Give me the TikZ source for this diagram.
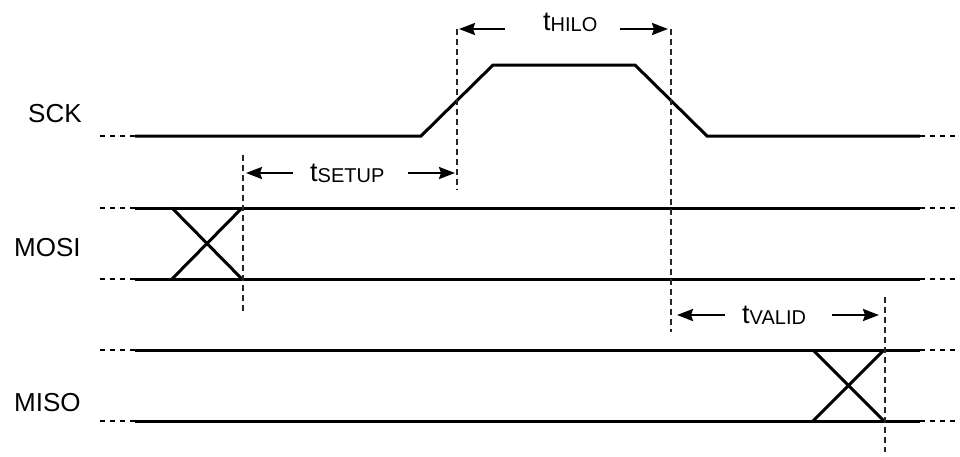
\documentclass[tikz,border=0pt]{standalone}
\usepackage{fontspec}
\setmainfont{Liberation Sans}
\usetikzlibrary{arrows.meta}
\begin{document}
\begin{tikzpicture}[x=1pt,y=-1pt,
  sig/.style={line width=3pt, line join=miter},
  ext/.style={line width=2.2pt, dash pattern=on 5pt off 5pt},
  guide/.style={line width=1.5pt, black!85, dash pattern=on 6pt off 4pt},
  dim/.style={line width=2.3pt, -{Stealth[length=16pt,width=12pt,inset=2pt]}},
  lbl/.style={anchor=base west, inner sep=0pt, font=\fontsize{26}{28}\selectfont},
  tlbl/.style={inner sep=0pt, font=\fontsize{27}{28}\selectfont}
]
\useasboundingbox (0,0) rectangle (960,456);
\newcommand{\tsub}[1]{t\raisebox{-1.5pt}{\fontsize{20}{22}\selectfont #1}}

% labels
\node[lbl] (lsck) at (28,122) {SCK};
\node[lbl] (lmosi) at (14,256) {MOSI};
\node[lbl] (lmiso) at (14,411) {MISO};

% SCK
\coordinate (s0) at (100,136);
\coordinate (s1) at (135,136);
\coordinate (s2) at (421,136);
\coordinate (s3) at (493,65);
\coordinate (s4) at (635,65);
\coordinate (s5) at (707,136);
\coordinate (s6) at (920,136);
\coordinate (s7) at (955,136);
\draw[ext] (s0) -- (s1);
\draw[sig] (s1) -- (s2) -- (s3) -- (s4) -- (s5) -- (s6);
\draw[ext] (s6) -- (s7);

% MOSI
\coordinate (mt0) at (100,208);
\coordinate (mt1) at (135,208);
\coordinate (mt2) at (920,208);
\coordinate (mt3) at (955,208);
\coordinate (mb0) at (100,279);
\coordinate (mb1) at (135,279);
\coordinate (mb2) at (920,279);
\coordinate (mb3) at (955,279);
\coordinate (mxa) at (172,208);
\coordinate (mxb) at (242,279);
\coordinate (mxc) at (172,279);
\coordinate (mxd) at (242,208);
\draw[ext] (mt0) -- (mt1);
\draw[ext] (mb0) -- (mb1);
\draw[sig] (mt1) -- (mt2);
\draw[sig] (mb1) -- (mb2);
\draw[ext] (mt2) -- (mt3);
\draw[ext] (mb2) -- (mb3);
\draw[sig] (mxa) -- (mxb);
\draw[sig] (mxc) -- (mxd);

% MISO
\coordinate (it0) at (100,350);
\coordinate (it1) at (135,350);
\coordinate (it2) at (920,350);
\coordinate (it3) at (955,350);
\coordinate (ib0) at (100,421);
\coordinate (ib1) at (135,421);
\coordinate (ib2) at (920,421);
\coordinate (ib3) at (955,421);
\coordinate (ixa) at (813,350);
\coordinate (ixb) at (884,421);
\coordinate (ixc) at (813,421);
\coordinate (ixd) at (884,350);
\draw[ext] (it0) -- (it1);
\draw[ext] (ib0) -- (ib1);
\draw[sig] (it1) -- (it2);
\draw[sig] (ib1) -- (ib2);
\draw[ext] (it2) -- (it3);
\draw[ext] (ib2) -- (ib3);
\draw[sig] (ixa) -- (ixb);
\draw[sig] (ixc) -- (ixd);

% guides
\coordinate (g1a) at (243,155);
\coordinate (g1b) at (243,314);
\coordinate (g2a) at (457,29);
\coordinate (g2b) at (457,190);
\coordinate (g3a) at (671,29);
\coordinate (g3b) at (671,332);
\coordinate (g4a) at (885,297);
\coordinate (g4b) at (885,452);
\draw[guide] (g1a) -- (g1b);
\draw[guide] (g2a) -- (g2b);
\draw[guide] (g3a) -- (g3b);
\draw[guide] (g4a) -- (g4b);

% t_SETUP
\node[tlbl, anchor=base west] (tsetup) at (310,181) {\tsub{SETUP}};
\coordinate (su1) at (293,173);
\coordinate (su2) at (246,173);
\coordinate (su3) at (408,173);
\coordinate (su4) at (455,173);
\draw[dim] (su1) -- (su2);
\draw[dim] (su3) -- (su4);

% t_HILO
\node[tlbl, anchor=base west] (thilo) at (543,30) {\tsub{HILO}};
\coordinate (hi1) at (505,29);
\coordinate (hi2) at (459,29);
\coordinate (hi3) at (620,29);
\coordinate (hi4) at (668,29);
\draw[dim] (hi1) -- (hi2);
\draw[dim] (hi3) -- (hi4);

% t_VALID
\node[tlbl, anchor=base west] (tvalid) at (742,323) {\tsub{VALID}};
\coordinate (va1) at (725,315);
\coordinate (va2) at (677,315);
\coordinate (va3) at (832,315);
\coordinate (va4) at (879,315);
\draw[dim] (va1) -- (va2);
\draw[dim] (va3) -- (va4);
\end{tikzpicture}
\end{document}
